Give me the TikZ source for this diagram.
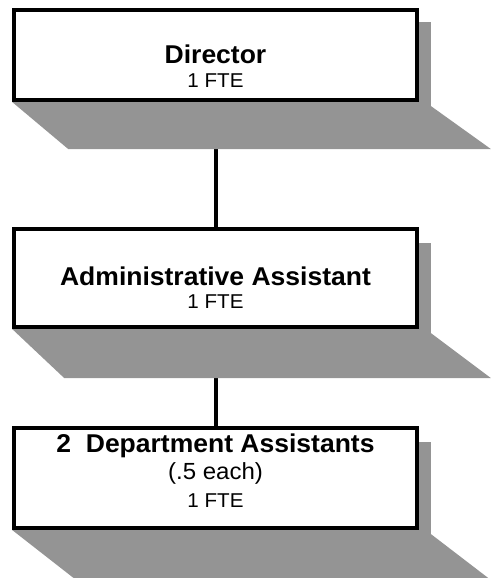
\documentclass[tikz,border=0pt]{standalone}
\usepackage{fontspec}
\setmainfont{Liberation Sans}[FakeStretch=1.03]
\usetikzlibrary{calc,backgrounds}

\begin{document}
\begin{tikzpicture}[x=0.75pt,y=-0.75pt]
    \tikzstyle{box}=[draw,line width=3pt,fill=white,minimum width=302pt,inner sep=0pt]
    \tikzstyle{shade}=[fill=black!42]
    \tikzstyle{link}=[line width=3pt]
    \tikzstyle{title}=[anchor=base,inner sep=0pt,font=\fontsize{19.3}{22}\selectfont\bfseries]
    \tikzstyle{fte}=[anchor=base,inner sep=0pt,font=\fontsize{15}{18}\selectfont]
    \tikzstyle{each}=[anchor=base,inner sep=0pt,font=\fontsize{17.5}{20}\selectfont]

    \useasboundingbox (0,0) rectangle (490,578);

    \node[box,minimum height=67.5pt] (dir) at (215.5,55) {};
    \node[box,minimum height=73.5pt] (adm) at (215.5,278) {};
    \node[box,minimum height=75pt] (dep) at (215.5,478) {};

    \node[title] (dirname) at (215.5,63) {Director};
    \node[fte] (dirfte) at (215.5,87) {1 FTE};

    \node[title] (admname) at (215.5,285) {Administrative Assistant};
    \node[fte] (admfte) at (215.5,308) {1 FTE};

    \node[title] (depname) at (215.5,452) {2\ \ Department Assistants};
    \node[each] (depeach) at (215.5,479) {(.5 each)};
    \node[fte] (depfte) at (215.5,507) {1 FTE};

    % lines and shadows go under the boxes
    \begin{pgfonlayer}{background}
    \draw[link] (dir.south) -- (adm.north);
    \draw[link] (adm.south) -- (dep.north);

    \fill[shade] ($(dir.north east)+(0,14)$) -- ++(12,0) -- ($(dir.south east)+(12,4)$)
        -- ($(dir.south east)+(72,47)$) -- ($(dir.south west)+(56,47)$) -- (dir.south west) -- cycle;
    \fill[shade] ($(adm.north east)+(0,16)$) -- ++(12,0) -- ($(adm.south east)+(12,4)$)
        -- ($(adm.south east)+(72,49)$) -- ($(adm.south west)+(52,49)$) -- (adm.south west) -- cycle;
    \fill[shade] ($(dep.north east)+(0,16)$) -- ++(12,0) -- ($(dep.south east)+(12,4)$)
        -- ($(dep.south east)+(72,50)$) -- ($(dep.south west)+(64,50)$) -- (dep.south west) -- cycle;
    \end{pgfonlayer}
\end{tikzpicture}
\end{document}
